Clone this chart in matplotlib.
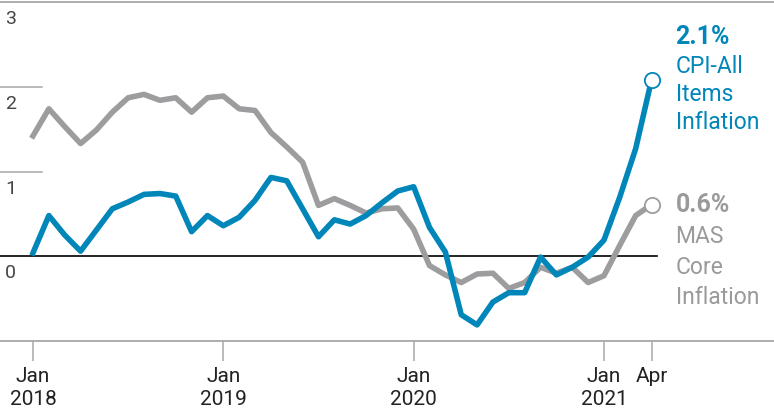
import matplotlib
matplotlib.use("Agg")
import matplotlib.pyplot as plt
import matplotlib.transforms as mtransforms

plt.rcParams['font.family'] = ['Roboto', 'DejaVu Sans']

# monthly values, Jan 2018 .. Apr 2021
months = list(range(40))
cpi_all = [0.04, 0.48, 0.25, 0.06, 0.31, 0.56, 0.64, 0.73, 0.74, 0.71,
           0.29, 0.48, 0.36, 0.46, 0.66, 0.93, 0.89, 0.56, 0.23, 0.43,
           0.38, 0.48, 0.63, 0.77, 0.82, 0.34, 0.05, -0.69, -0.81, -0.54,
           -0.43, -0.43, -0.01, -0.22, -0.13, -0.01, 0.19, 0.70, 1.27, 2.08]
mas_core = [1.42, 1.74, 1.53, 1.33, 1.49, 1.70, 1.87, 1.91, 1.84, 1.87,
            1.70, 1.87, 1.89, 1.74, 1.72, 1.46, 1.29, 1.11, 0.60, 0.68,
            0.60, 0.51, 0.56, 0.57, 0.32, -0.11, -0.22, -0.31, -0.21, -0.20,
            -0.38, -0.31, -0.13, -0.20, -0.13, -0.31, -0.23, 0.13, 0.48, 0.61]

tick_months = [0, 12, 24, 36, 39]
tick_labels = ["Jan\n2018", "Jan\n2019", "Jan\n2020", "Jan\n2021", "Apr"]
y_labels = [3, 2, 1, 0]

BLUE = "#0086b9"
GREY = "#9d9d9f"
AXIS = "#a8a8a8"

fig = plt.figure(figsize=(7.74, 4.09), dpi=100)
ax = fig.add_axes([0, 68 / 409, 1, 339 / 409])
ax.set_xlim(-33 / 15.86, (774 - 33) / 15.86)
ax.set_ylim(-1, 3)

for s in ["left", "right"]:
    ax.spines[s].set_visible(False)
for s in ["top", "bottom"]:
    ax.spines[s].set_color(AXIS)
    ax.spines[s].set_linewidth(1.3)

# short gridlines and zero line
for v in [1, 2]:
    ax.axhline(v, xmin=0, xmax=42 / 774, color=AXIS, lw=1.1)
ax.axhline(0, xmin=0, xmax=657 / 774, color="black", lw=1.2, zorder=2)

ax.plot(months, mas_core, color=GREY, lw=4, zorder=3)
ax.plot(months, cpi_all, color=BLUE, lw=4, zorder=4)
ax.plot(months[-1], mas_core[-1], "o", ms=11, mfc="white", mec=GREY, mew=1.3, zorder=5)
ax.plot(months[-1], cpi_all[-1], "o", ms=11, mfc="white", mec=BLUE, mew=1.3, zorder=6)

ax.set_yticks([])
ax.set_xticks(tick_months)
ax.set_xticklabels(tick_labels, fontsize=15, color="#222222", linespacing=1.3)
ax.tick_params(axis="x", length=14.5, width=1.1, color=AXIS, pad=4)

trans = mtransforms.blended_transform_factory(ax.transAxes, ax.transData)
for v in y_labels:
    ax.annotate(str(v), xy=(5 / 774, v), xycoords=trans, xytext=(0, -8),
                textcoords="offset pixels", ha="left", va="top",
                fontsize=14, color="#444444")

# end labels
def end_label(y, lines, color):
    for i, (txt, dy) in enumerate(lines):
        ax.annotate(txt, xy=(months[-1], y), xycoords="data", xytext=(24, dy),
                    textcoords="offset pixels", ha="left", va="baseline",
                    fontsize=18 if i == 0 else 16.5,
                    fontweight="bold" if i == 0 else "normal", color=color)

end_label(cpi_all[-1], [("2.1%", 36), ("CPI-All", 7), ("Items", -21), ("Inflation", -49)], BLUE)
end_label(mas_core[-1], [("0.6%", -7), ("MAS", -38), ("Core", -69), ("Inflation", -99)], "#9a9a9a")

fig.savefig("out.png", dpi=100)
